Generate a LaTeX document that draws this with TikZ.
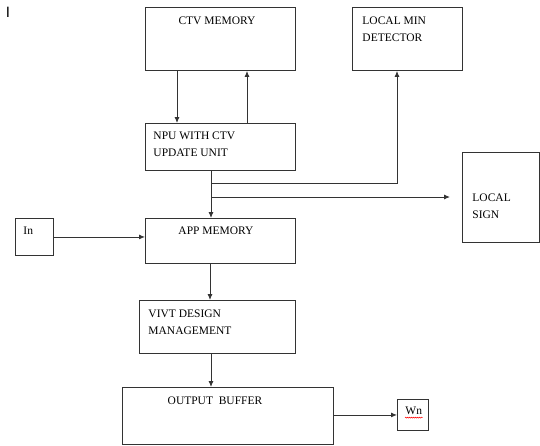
\documentclass[tikz,border=0pt]{standalone}
\usepackage{fontspec}
\setmainfont{Liberation Serif}
\setsansfont{Liberation Sans}
\usetikzlibrary{arrows.meta,positioning,decorations.pathmorphing}

\begin{document}
\begin{tikzpicture}[
  x=1pt, y=-1pt,
  line width=0.9pt,
  every node/.style={font=\fontsize{11.5}{17.5}\selectfont, text=black},
  block/.style={draw=black!80, rectangle, inner sep=0pt, anchor=north west},
  txt/.style={inner sep=0pt, align=left, anchor=north west},
  arr/.style={draw=black!80, -{Latex[length=6pt,width=5pt]}}]
\useasboundingbox (0,0) rectangle (540,445);

% blocks
\node[block, minimum width=150pt, minimum height=63pt] (ctv) at (145,7) {};
\node[block, minimum width=110pt, minimum height=63pt] (lmd) at (352,7) {};
\node[block, minimum width=150pt, minimum height=47pt] (npu) at (145,123) {};
\node[block, minimum width=77pt, minimum height=90pt] (sign) at (462,152) {};
\node[block, minimum width=38pt, minimum height=37pt] (in) at (15,218) {};
\node[block, minimum width=150pt, minimum height=45pt] (app) at (145,218) {};
\node[block, minimum width=156pt, minimum height=53pt] (vivt) at (139,300) {};
\node[block, minimum width=211pt, minimum height=57pt] (out) at (122,387) {};
\node[block, minimum width=31pt, minimum height=31pt] (wn) at (397,399) {};

% texts
\node[font=\fontsize{15}{15}\sffamily, inner sep=0pt] (cursor) at (8,12.5) {I};
\node[txt, anchor=north] (ctvtxt) at (217,16) {CTV MEMORY};
\node[txt] (lmdtxt) at (362,16) {LOCAL MIN\\DETECTOR};
\node[txt] (nputxt) at (153,131) {NPU WITH CTV\\UPDATE UNIT};
\node[txt] (signtxt) at (472,193) {LOCAL\\SIGN};
\node[txt] (intxt) at (23,227) {In};
\node[txt, anchor=north] (apptxt) at (216,226) {APP MEMORY};
\node[txt] (vivttxt) at (148,309) {VIVT DESIGN\\MANAGEMENT};
\node[txt, anchor=north] (outtxt) at (215,396) {OUTPUT\ \ BUFFER};
\node[txt] (wntxt) at (405,407) {Wn};
\draw[red, line width=0.4pt, decorate,
  decoration={snake, segment length=2pt, amplitude=0.5pt}]
  ([yshift=-2pt]wntxt.south west) -- ([yshift=-2pt]wntxt.south east);

% connectors
\draw[arr] ([xshift=32pt]ctv.south west) -- ([xshift=32pt]npu.north west);
\draw[arr] ([xshift=102pt]npu.north west) -- ([xshift=102pt]ctv.south west);
\coordinate (j1) at ([xshift=66pt]npu.south west);
\draw[arr] (j1) -- (j1 |- app.north);
\coordinate (b1) at (211,183);
\coordinate (lmdin) at ([xshift=45pt]lmd.south west);
\draw[arr] (b1) -- (b1 -| lmdin) -- (lmdin);
\coordinate (b2) at (211,197);
\coordinate (signin) at (450,197);
\draw[arr] (b2) -- (signin);
\draw[arr] (in.east) -- (in.east -| app.west);
\coordinate (j2) at ([xshift=65pt]app.south west);
\draw[arr] (j2) -- (j2 |- vivt.north);
\coordinate (j3) at ([xshift=72pt]vivt.south west);
\draw[arr] (j3) -- (j3 |- out.north);
\draw[arr] (out.east |- wn.west) -- (wn.west);
\end{tikzpicture}
\end{document}
